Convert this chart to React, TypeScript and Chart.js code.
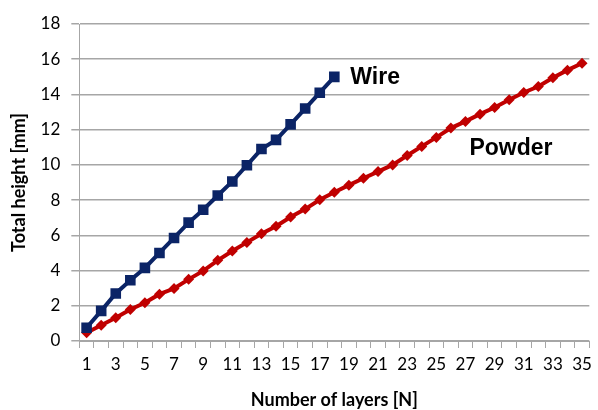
import React, { useEffect, useRef } from "react";
import { Chart, registerables } from "chart.js";

Chart.register(...registerables);

const layers = Array.from({ length: 35 }, (_, i) => String(i + 1));
const wireHeight = [0.75, 1.71, 2.7, 3.45, 4.15, 5.0, 5.85, 6.72, 7.45, 8.26, 9.06, 9.98, 10.9, 11.42, 12.3, 13.2, 14.1, 15.0];
const powderHeight = [0.47, 0.9, 1.32, 1.79, 2.17, 2.66, 2.98, 3.5, 3.98, 4.58, 5.11, 5.6, 6.09, 6.52, 7.04, 7.49, 8.02, 8.45, 8.85, 9.24, 9.62, 10.0, 10.53, 11.05, 11.56, 12.09, 12.47, 12.88, 13.26, 13.7, 14.11, 14.45, 14.95, 15.38, 15.77];
const seriesNames = ["Wire", "Powder"];
const yTitle = "Total height [mm]";
const xTitle = "Number of layers [N]";

const WIRE = "#0b2466";
const POWDER = "#c00000";
const GRID = "#a6a6a6";
const FONT = "Lato, 'Open Sans', sans-serif";

const labelPlugin = {
  id: "seriesLabels",
  afterDatasetsDraw(chart: any) {
    const { ctx, scales } = chart;
    const x = scales.x;
    const y = scales.y;
    ctx.save();
    ctx.font = "bold 23px 'Liberation Sans', Arial, sans-serif";
    ctx.fillStyle = "#000";
    ctx.textBaseline = "middle";
    ctx.textAlign = "left";
    const lastW = wireHeight.length - 1;
    ctx.fillText(seriesNames[0], x.getPixelForValue(lastW) + 16, y.getPixelForValue(wireHeight[lastW]) + 1);
    ctx.fillText(seriesNames[1], x.getPixelForValue(26) + 4, y.getPixelForValue(10.95));
    ctx.restore();
  },
};

export default function App() {
  const ref = useRef<HTMLCanvasElement>(null);
  useEffect(() => {
    document.body.style.margin = "0";
    const chart = new Chart(ref.current!, {
      type: "line",
      data: {
        labels: layers,
        datasets: [
          {
            label: seriesNames[0],
            data: wireHeight,
            borderColor: WIRE,
            backgroundColor: WIRE,
            borderWidth: 4,
            pointStyle: "rect",
            pointRadius: 7.5,
            pointBorderWidth: 0,
            tension: 0,
          },
          {
            label: seriesNames[1],
            data: powderHeight,
            borderColor: POWDER,
            backgroundColor: POWDER,
            borderWidth: 4,
            pointStyle: "rectRot",
            pointRadius: 5.5,
            pointBorderWidth: 0,
            tension: 0,
          },
        ],
      },
      options: {
        animation: false,
        responsive: false,
        layout: { padding: { top: 24, right: -9, left: 8, bottom: -1 } },
        plugins: { legend: { display: false }, tooltip: { enabled: false } },
        scales: {
          x: {
            type: "category",
            offset: true,
            grid: { offset: true, drawOnChartArea: false, drawTicks: true, tickLength: 7, color: GRID },
            border: { color: GRID, width: 1 },
            ticks: {
              autoSkip: false,
              maxRotation: 0,
              padding: 6,
              color: "#000",
              font: { family: FONT, size: 17 },
              callback: (_v: any, i: number) => (i % 2 === 0 ? layers[i] : ""),
            },
            title: {
              display: true,
              text: xTitle,
              color: "#000",
              font: { family: FONT, size: 18, weight: "bold" },
              padding: { top: 9, bottom: 0 },
            },
          },
          y: {
            min: 0,
            max: 18,
            grid: { color: GRID, tickLength: 8, lineWidth: 1.5 },
            border: { color: GRID, width: 1 },
            ticks: {
              stepSize: 2,
              padding: 11,
              color: "#000",
              font: { family: FONT, size: 17 },
            },
            title: {
              display: true,
              text: yTitle,
              color: "#000",
              font: { family: FONT, size: 18, weight: "bold" },
              padding: { top: 0, bottom: 0 },
            },
          },
        },
      },
      plugins: [labelPlugin],
    });
    return () => chart.destroy();
  }, []);
  return <canvas ref={ref} width={598} height={410} style={{ display: "block" }} />;
}
